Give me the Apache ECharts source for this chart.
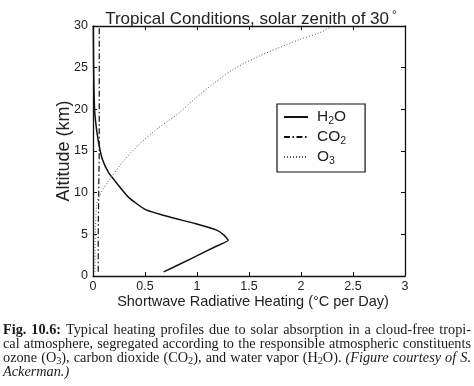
<!DOCTYPE html>
<html><head><meta charset="utf-8">
<script src="https://cdn.jsdelivr.net/npm/echarts@6/dist/echarts.min.js"></script>
<style>html,body{margin:0;padding:0;background:#fff}#c{width:474px;height:386px}</style>
</head><body><div id="c"></div>
<script>
// ---- data ----
const xTickLabels = ['0', '0.5', '1', '1.5', '2', '2.5', '3'];
const yTickLabels = ['0', '5', '10', '15', '20', '25', '30'];
const seriesNames = ['H2O', 'CO2', 'O3'];

const h2oAltitude = [0.5, 2.0, 3.6, 4.3, 4.9, 5.5, 6.3, 7.1, 8.0, 9.4, 10.8, 12.4, 14.0, 15.6, 17.5, 20, 25, 30];
const h2oHeating  = [0.68, 0.93, 1.19, 1.30, 1.26, 1.19, 0.98, 0.73, 0.50, 0.345, 0.25, 0.15, 0.09, 0.06, 0.035, 0.015, 0.006, 0.003];

const co2Altitude = [0.5, 5, 10, 15, 20, 25, 30];
const co2Heating  = [0.05, 0.05, 0.055, 0.06, 0.06, 0.06, 0.06];

const o3Altitude = [0.5, 3, 6, 8.5, 9.6, 11.4, 13.6, 15.5, 17.5, 19.5, 21.5, 23, 24.8, 26.4, 28.3, 29.2, 30];
const o3Heating  = [0.02, 0.02, 0.025, 0.035, 0.06, 0.15, 0.28, 0.42, 0.60, 0.82, 1.00, 1.15, 1.35, 1.60, 1.97, 2.18, 2.30];

const captionLines = [
  [['b', 'Fig. 10.6:'], ['n', ' Typical heating profiles due to solar absorption in a cloud-free tropi-']],
  [['n', 'cal atmosphere, segregated according to the responsible atmospheric constituents']],
  [['n', 'ozone (O'], ['s', '3'], ['n', '), carbon dioxide (CO'], ['s', '2'], ['n', '), and water vapor (H'], ['s', '2'], ['n', 'O). '], ['i', '(Figure courtesy of S.']],
  [['i', 'Ackerman.)']]
];
const captionBaselines = [335, 349, 363, 377];

// ---- helpers ----
const pairs = (xs, ys) => xs.map((v, i) => [v, ys[i]]);
const legendLabel = {
  H2O: '{n|H}{s|2}{n|O}',
  CO2: '{n|CO}{s|2}',
  O3: '{n|O}{s|3}'
};

function buildCaption() {
  const ctx = document.createElement('canvas').getContext('2d');
  const fam = '"Liberation Serif", "Times New Roman", serif';
  const fontOf = (k, fs) => (k === 'i' ? 'italic ' : '') + (k === 'b' ? 'bold ' : '') + (k === 's' ? fs * 0.72 : fs).toFixed(2) + 'px ' + fam;
  const measure = (k, t, fs) => { ctx.font = fontOf(k, fs); return ctx.measureText(t).width; };
  const toWords = line => {
    const ws = [[]];
    line.forEach(([k, t]) => {
      t.split(' ').forEach((p, j) => { if (j > 0) ws.push([]); if (p) ws[ws.length - 1].push([k, p]); });
    });
    return ws.filter(w => w.length);
  };
  const L = 3, R = 471, target = R - L;
  const lineWords = captionLines.map(toWords);
  const wordWidth = (w, fs) => w.reduce((a, [k, t]) => a + measure(k, t, fs), 0);
  const natural = (ws, fs) => ws.reduce((a, w) => a + wordWidth(w, fs), 0) + (ws.length - 1) * measure('n', ' ', fs);
  let fs = 13 * Math.min(...lineWords.slice(0, 3).map(ws => target / natural(ws, 13))) * 0.99;
  fs = Math.max(11, Math.min(14.5, fs));
  const elems = [];
  lineWords.forEach((ws, i) => {
    const ww = ws.map(w => wordWidth(w, fs));
    const total = ww.reduce((a, b) => a + b, 0);
    const justify = i < 3 && ws.length > 1;
    const gap = justify ? (target - total) / (ws.length - 1) : measure('n', ' ', fs);
    let x = L;
    const yMid = captionBaselines[i] - 0.34 * fs;
    ws.forEach((w, j) => {
      let xx = x;
      w.forEach(([k, t]) => {
        elems.push({
          type: 'text', x: xx, y: yMid + (k === 's' ? fs * 0.24 : 0), silent: true,
          style: { text: t, font: fontOf(k, fs), fill: '#1a1a1a', align: 'left', verticalAlign: 'middle' }
        });
        xx += measure(k, t, fs);
      });
      x += ww[j] + gap;
    });
  });
  return elems;
}

const sans = '"Liberation Sans", Arial, sans-serif';
const axisLineStyle = { color: '#111', width: 1.3 };
const chart = echarts.init(document.getElementById('c'), null, { renderer: 'canvas' });
const option = {
  animation: false,
  backgroundColor: '#fff',
  textStyle: { fontFamily: sans },
  grid: { left: 93, right: 69, top: 26, bottom: 110 },
  xAxis: [
    {
      type: 'value', min: 0, max: 3, interval: 0.5, position: 'bottom',
      axisLine: { show: true, onZero: false, lineStyle: axisLineStyle },
      axisTick: { show: true, inside: true, length: 4, lineStyle: { color: '#111' } },
      splitLine: { show: false },
      axisLabel: { fontSize: 12.5, color: '#222', margin: 4, formatter: (v) => xTickLabels[Math.round(v / 0.5)] },
      name: 'Shortwave Radiative Heating (°C per Day)', nameLocation: 'middle', nameGap: 18,
      nameMoveOverlap: false,
      nameTextStyle: { fontSize: 14.5, color: '#222', padding: [0, 0, 0, 8] }
    },
    {
      type: 'value', min: 0, max: 3, interval: 0.5, position: 'top',
      axisLine: { show: true, onZero: false, lineStyle: axisLineStyle },
      axisTick: { show: true, inside: true, length: 4, lineStyle: { color: '#111' } },
      axisLabel: { show: false }, splitLine: { show: false }
    }
  ],
  yAxis: [
    {
      type: 'value', min: 0, max: 30, interval: 5, position: 'left',
      axisLine: { show: true, onZero: false, lineStyle: axisLineStyle },
      axisTick: { show: true, inside: true, length: 4, lineStyle: { color: '#111' } },
      splitLine: { show: false },
      axisLabel: { fontSize: 12.5, color: '#222', margin: 5, formatter: (v) => yTickLabels[Math.round(v / 5)] },
      name: 'Altitude (km)', nameLocation: 'middle', nameGap: 20,
      nameMoveOverlap: false,
      nameTextStyle: { fontSize: 18, color: '#222' }
    },
    {
      type: 'value', min: 0, max: 30, interval: 5, position: 'right',
      axisLine: { show: true, onZero: false, lineStyle: axisLineStyle },
      axisTick: { show: true, inside: true, length: 4, lineStyle: { color: '#111' } },
      axisLabel: { show: false }, splitLine: { show: false }
    }
  ],
  legend: {
    orient: 'vertical', left: 277, top: 104,
    padding: [5, 19, 5, 6], itemGap: 2, itemWidth: 24, itemHeight: 14,
    borderColor: '#111', borderWidth: 1.2, backgroundColor: '#fff',
    data: seriesNames,
    itemStyle: { opacity: 0, borderWidth: 0 },
    formatter: (name) => legendLabel[name],
    textStyle: {
      padding: [0, 0, 0, 4],
      rich: {
        n: { fontSize: 15.5, lineHeight: 20, color: '#222', fontFamily: sans },
        s: { fontSize: 10.5, lineHeight: 10, verticalAlign: 'bottom', color: '#222', fontFamily: sans }
      }
    }
  },
  series: [
    {
      name: seriesNames[0], type: 'line', symbol: 'none', showSymbol: false, color: '#111', smooth: 0.15,
      lineStyle: { color: '#111', width: 1.5, type: 'solid' },
      data: pairs(h2oHeating, h2oAltitude)
    },
    {
      name: seriesNames[1], type: 'line', symbol: 'none', showSymbol: false, color: '#111',
      lineStyle: { color: '#111', width: 1.2, type: [6, 2.5, 1.5, 2.5] },
      data: pairs(co2Heating, co2Altitude)
    },
    {
      name: seriesNames[2], type: 'line', symbol: 'none', showSymbol: false, color: '#555', smooth: 0.3,
      lineStyle: { color: '#555', width: 1, type: [1, 2] },
      data: pairs(o3Heating, o3Altitude)
    }
  ],
  graphic: [
    {
      type: 'text', x: 251, y: 19.5, silent: true,
      style: {
        text: '{a|Tropical Conditions, solar zenith of 30}{d|°}',
        align: 'center', verticalAlign: 'middle',
        rich: {
          a: { fontSize: 17, lineHeight: 20, fill: '#222', fontFamily: sans },
          d: { fontSize: 12, lineHeight: 20, verticalAlign: 'top', fill: '#222', padding: [0, 0, 0, 3], fontFamily: sans }
        }
      }
    }
  ].concat(buildCaption())
};
chart.setOption(option);
</script>
</body></html>
